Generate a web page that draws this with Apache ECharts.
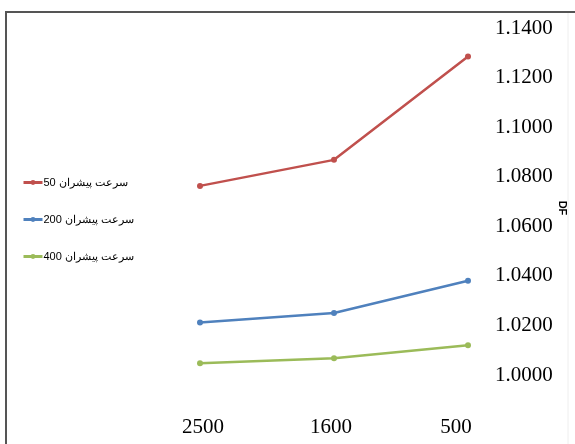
<!DOCTYPE html>
<html>
<head>
<meta charset="utf-8">
<script src="https://cdn.jsdelivr.net/npm/echarts@6/dist/echarts.min.js"></script>
<style>html,body{margin:0;padding:0;background:#fff;}#c{width:575px;height:444px;}</style>
</head>
<body>
<div id="c"></div>
<script>
const categories = ['2500', '1600', '500'];
const seriesNames = ['سرعت پیشران 50', 'سرعت پیشران 200', 'سرعت پیشران 400'];
const speed50 = [1.0763, 1.0868, 1.1285];
const speed200 = [1.0212, 1.0250, 1.0380];
const speed400 = [1.0047, 1.0068, 1.0120];
const yMin = 1.0, yMax = 1.14, yStep = 0.02;
const colors = ['#C0504D', '#4F81BD', '#9BBB59'];

const chart = echarts.init(document.getElementById('c'), null, {renderer: 'canvas'});
const mk = (name, data, color) => ({
  name, type: 'line', data,
  symbol: 'circle', symbolSize: 6,
  lineStyle: {width: 2.5, color},
  itemStyle: {color},
  emphasis: {disabled: true}
});
chart.setOption({
  animation: false,
  backgroundColor: '#fff',
  grid: {left: 133, right: 40, top: 28, bottom: 69, containLabel: false},
  legend: {
    orient: 'vertical', left: 17, top: 172,
    itemWidth: 19, itemHeight: 6, itemGap: 26,
    data: seriesNames,
    lineStyle: {width: 3},
    textStyle: {fontFamily: 'Liberation Sans, Arial', fontSize: 11, color: '#000', padding: [0, 0, 0, -4]},
    selectedMode: false
  },
  xAxis: {
    type: 'category', data: categories, boundaryGap: true,
    axisLine: {show: false}, axisTick: {show: false},
    axisLabel: {margin: 42, fontFamily: 'Liberation Serif', fontSize: 21, color: '#000',
      formatter: (v, i) => i === 0 ? '{a|' + v + '}' : (i === 2 ? '{c|' + v + '}' : '{b|' + v + '}'),
      rich: {
        a: {fontFamily: 'Liberation Serif', fontSize: 21, color: '#000', padding: [0, 0, 0, 6]},
        b: {fontFamily: 'Liberation Serif', fontSize: 21, color: '#000', padding: [0, 6, 0, 0]},
        c: {fontFamily: 'Liberation Serif', fontSize: 21, color: '#000', padding: [0, 24, 0, 0]}
      }}
  },
  yAxis: {
    type: 'value', position: 'right', min: yMin, max: yMax, interval: yStep,
    offset: -40,
    axisLine: {show: false}, axisTick: {show: false}, splitLine: {show: false},
    axisLabel: {margin: 0, fontFamily: 'Liberation Serif', fontSize: 21, color: '#000',
      formatter: v => v.toFixed(4)}
  },
  graphic: [
    {type: 'line', shape: {x1: 5, y1: 12, x2: 575, y2: 12}, style: {stroke: '#555', lineWidth: 2}},
    {type: 'line', shape: {x1: 6, y1: 11, x2: 6, y2: 444}, style: {stroke: '#555', lineWidth: 2}},
    {type: 'line', shape: {x1: 568, y1: 13, x2: 568, y2: 444}, style: {stroke: '#eee', lineWidth: 1}},
    {type: 'text', x: 562, y: 208, rotation: -Math.PI / 2,
      style: {text: 'DF', font: 'bold 11px Liberation Sans, Arial', fill: '#000', align: 'center', verticalAlign: 'middle'}}
  ],
  series: [
    mk(seriesNames[0], speed50, colors[0]),
    mk(seriesNames[1], speed200, colors[1]),
    mk(seriesNames[2], speed400, colors[2])
  ]
});
</script>
</body>
</html>
